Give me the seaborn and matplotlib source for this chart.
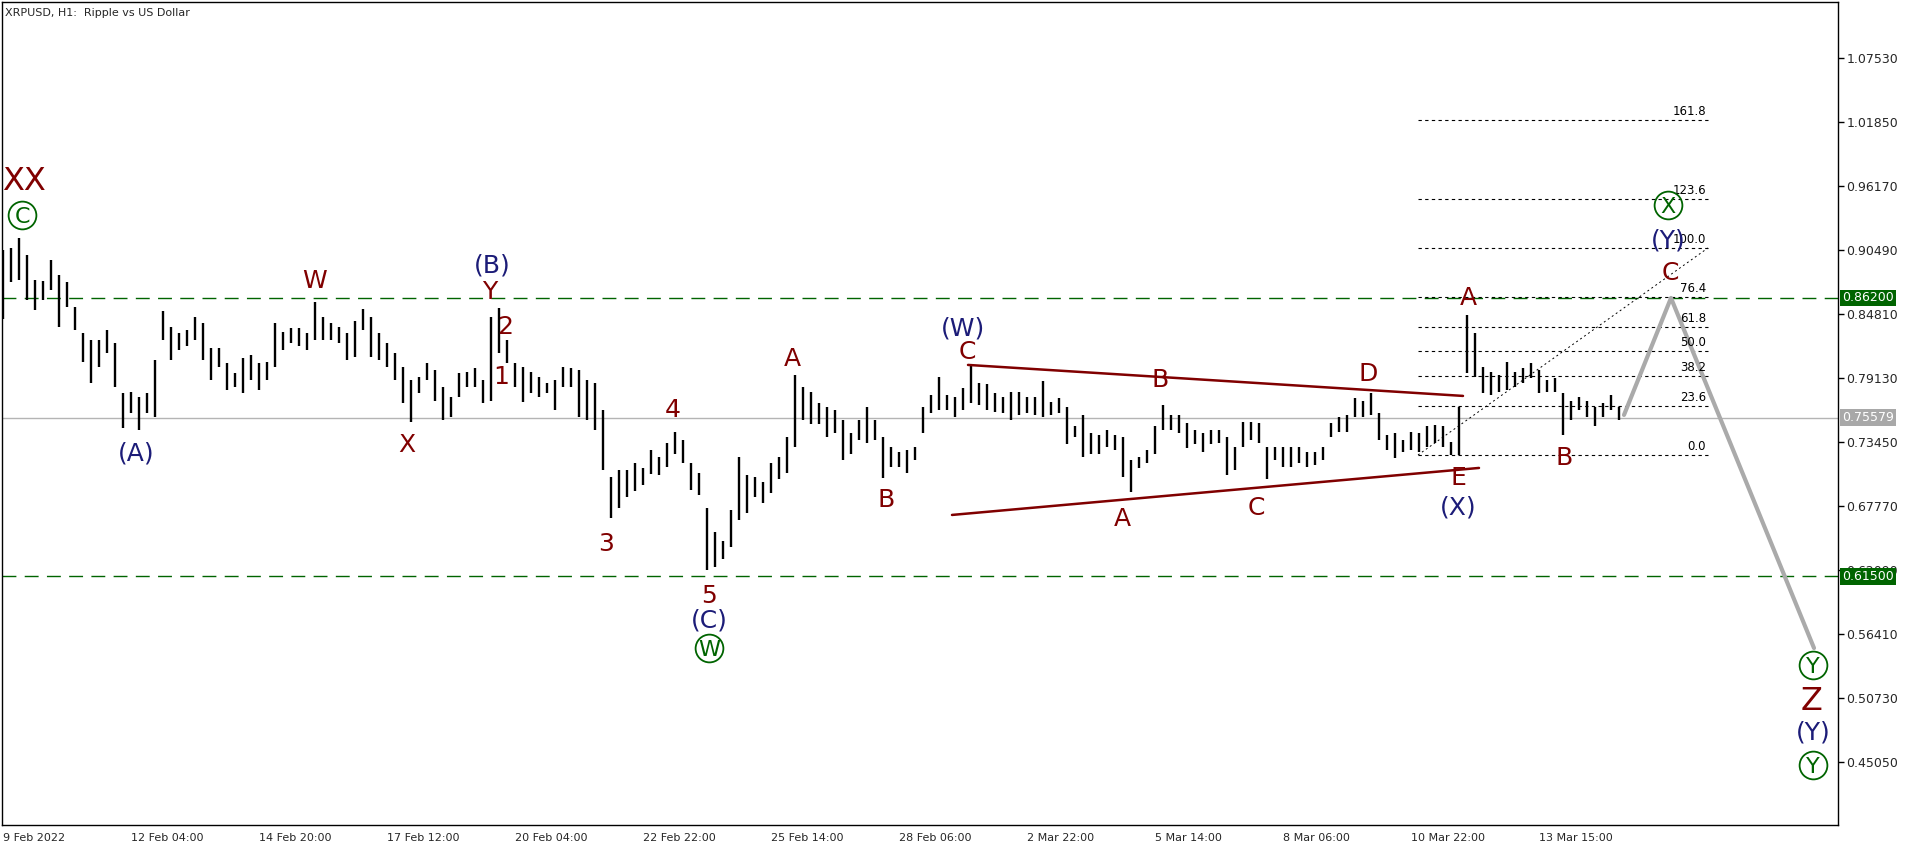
import numpy as np
import pandas as pd
import matplotlib
matplotlib.use("Agg")
import matplotlib.pyplot as plt
import matplotlib.transforms as mtransforms
import seaborn as sns

# 4-hour high / low (bar k sits at hour 4*k)
highs = [
    0.905, 0.906, 0.915, 0.900, 0.878, 0.877, 0.896, 0.882, 0.876, 0.854,
    0.831, 0.825, 0.825, 0.834, 0.822, 0.778, 0.779, 0.774, 0.778, 0.807,
    0.850, 0.836, 0.831, 0.834, 0.845, 0.840, 0.818, 0.818, 0.804, 0.795,
    0.809, 0.811, 0.804, 0.805, 0.840, 0.832, 0.835, 0.835, 0.831, 0.858,
    0.845, 0.840, 0.836, 0.831, 0.842, 0.852, 0.845, 0.831, 0.822, 0.813,
    0.801, 0.789, 0.792, 0.804, 0.798, 0.783, 0.774, 0.795, 0.796, 0.800,
    0.789, 0.845, 0.853, 0.825, 0.804, 0.801, 0.796, 0.792, 0.787, 0.789,
    0.801, 0.800, 0.798, 0.789, 0.787, 0.763, 0.703, 0.709, 0.709, 0.716,
    0.711, 0.727, 0.721, 0.733, 0.743, 0.736, 0.716, 0.707, 0.676, 0.654,
    0.646, 0.674, 0.721, 0.705, 0.703, 0.699, 0.716, 0.721, 0.739, 0.794,
    0.783, 0.779, 0.769, 0.765, 0.763, 0.754, 0.742, 0.754, 0.765, 0.754,
    0.739, 0.730, 0.725, 0.727, 0.730, 0.765, 0.776, 0.792, 0.776, 0.774,
    0.782, 0.803, 0.787, 0.786, 0.778, 0.774, 0.779, 0.779, 0.774, 0.774,
    0.788, 0.770, 0.773, 0.765, 0.748, 0.758, 0.742, 0.740, 0.745, 0.740,
    0.739, 0.718, 0.721, 0.727, 0.748, 0.767, 0.758, 0.758, 0.751, 0.745,
    0.742, 0.745, 0.745, 0.739, 0.730, 0.752, 0.752, 0.751, 0.730, 0.730,
    0.730, 0.730, 0.730, 0.725, 0.725, 0.730, 0.751, 0.756, 0.758, 0.773,
    0.771, 0.778, 0.760, 0.740, 0.742, 0.736, 0.743, 0.742, 0.748, 0.749,
    0.748, 0.734, 0.765, 0.847, 0.831, 0.801, 0.796, 0.794, 0.805, 0.796,
    0.800, 0.804, 0.798, 0.789, 0.791, 0.778, 0.771, 0.774, 0.771, 0.765,
    0.769, 0.776, 0.765,
]
lows = [
    0.843, 0.876, 0.878, 0.860, 0.851, 0.860, 0.869, 0.836, 0.854, 0.834,
    0.805, 0.787, 0.801, 0.813, 0.783, 0.747, 0.760, 0.745, 0.760, 0.756,
    0.825, 0.807, 0.816, 0.819, 0.825, 0.807, 0.789, 0.801, 0.780, 0.783,
    0.778, 0.789, 0.780, 0.789, 0.801, 0.816, 0.822, 0.819, 0.816, 0.825,
    0.825, 0.825, 0.822, 0.807, 0.810, 0.834, 0.810, 0.807, 0.801, 0.789,
    0.769, 0.752, 0.778, 0.789, 0.771, 0.754, 0.756, 0.774, 0.783, 0.783,
    0.769, 0.771, 0.813, 0.804, 0.783, 0.770, 0.778, 0.774, 0.778, 0.763,
    0.783, 0.783, 0.756, 0.754, 0.745, 0.709, 0.667, 0.676, 0.685, 0.691,
    0.696, 0.706, 0.705, 0.712, 0.724, 0.716, 0.692, 0.687, 0.621, 0.623,
    0.630, 0.641, 0.665, 0.671, 0.685, 0.680, 0.689, 0.701, 0.707, 0.730,
    0.754, 0.750, 0.750, 0.739, 0.742, 0.718, 0.724, 0.736, 0.733, 0.736,
    0.702, 0.712, 0.712, 0.707, 0.718, 0.742, 0.760, 0.763, 0.763, 0.756,
    0.763, 0.769, 0.767, 0.763, 0.761, 0.760, 0.754, 0.758, 0.760, 0.758,
    0.756, 0.758, 0.760, 0.732, 0.739, 0.721, 0.724, 0.724, 0.730, 0.727,
    0.703, 0.690, 0.711, 0.716, 0.724, 0.745, 0.745, 0.742, 0.729, 0.732,
    0.725, 0.732, 0.733, 0.705, 0.709, 0.730, 0.736, 0.733, 0.701, 0.718,
    0.712, 0.712, 0.716, 0.712, 0.714, 0.718, 0.739, 0.743, 0.743, 0.756,
    0.756, 0.758, 0.736, 0.727, 0.720, 0.725, 0.727, 0.725, 0.730, 0.733,
    0.730, 0.723, 0.723, 0.795, 0.792, 0.778, 0.776, 0.779, 0.780, 0.783,
    0.787, 0.791, 0.778, 0.779, 0.779, 0.740, 0.754, 0.763, 0.756, 0.748,
    0.756, 0.763, 0.754,
]
bar_step = 4  # hours per bar

date_labels = ["9 Feb 2022", "12 Feb 04:00", "14 Feb 20:00", "17 Feb 12:00",
               "20 Feb 04:00", "22 Feb 22:00", "25 Feb 14:00", "28 Feb 06:00",
               "2 Mar 22:00", "5 Mar 14:00", "8 Mar 06:00", "10 Mar 22:00",
               "13 Mar 15:00"]
price_ticks = [1.07530, 1.01850, 0.96170, 0.90490, 0.84810, 0.79130,
               0.73450, 0.67770, 0.62090, 0.56410, 0.50730, 0.45050]

resist_level = 0.862
support_level = 0.615
last_price = 0.75579

# fibo expansion
fib_ratios = [0.0, 23.6, 38.2, 50.0, 61.8, 76.4, 100.0, 123.6, 161.8]
fib_low, fib_high = 0.7227, 0.9064
fib_x = [707.5, 852.5]

# contracting triangle
tri_upper_x, tri_upper_y = [482.5, 730.0], [0.8026, 0.7751]
tri_lower_x, tri_lower_y = [474.5, 738.0], [0.6695, 0.7112]

# forecast path
forecast_x = [810.5, 834.0, 905.5]
forecast_y = [0.7582, 0.862, 0.5514]

# wave marks: text, hour, price, style
wave_labels = [
    ("XX", 10.5, 0.9685, "big"), ("C", 9.5, 0.9356, "circle"),
    ("(A)", 66.5, 0.7262, "navy"), ("W", 156, 0.8789, "red"),
    ("(B)", 244.5, 0.8931, "navy"), ("Y", 243.5, 0.8691, "red"),
    ("2", 251, 0.8389, "red"), ("1", 249, 0.7937, "red"),
    ("X", 202, 0.7342, "red"), ("3", 301.5, 0.6455, "red"),
    ("4", 335, 0.7644, "red"), ("5", 353, 0.6002, "red"),
    ("(C)", 353, 0.5781, "navy"), ("W", 353, 0.5514, "circle"),
    ("A", 394.5, 0.8105, "red"), ("B", 441.5, 0.6854, "red"),
    ("(W)", 480, 0.8372, "navy"), ("C", 482, 0.8159, "red"),
    ("B", 578.5, 0.7910, "red"), ("A", 559.5, 0.6677, "red"),
    ("C", 626.5, 0.6783, "red"), ("D", 682.5, 0.7972, "red"),
    ("E", 727.5, 0.7041, "red"), ("(X)", 727.5, 0.6783, "navy"),
    ("A", 732.5, 0.8638, "red"), ("B", 780.5, 0.7218, "red"),
    ("C", 833.5, 0.8868, "red"), ("(Y)", 832.5, 0.9152, "navy"),
    ("X", 832.5, 0.9445, "circle"), ("Y", 905, 0.5364, "circle"),
    ("Z", 904.5, 0.5071, "big"), ("(Y)", 905, 0.4787, "navy"),
    ("Y", 905, 0.4476, "circle"),
]

sns.set_style("white")
plt.rcParams['font.family'] = ['DejaVu Sans']

RED = "#800000"
NAVY = "#1c1c78"
GREEN = "#006400"

fig = plt.figure(figsize=(19.16, 8.52), dpi=100)
ax = fig.add_axes([2 / 1916, 27 / 852, 1836 / 1916, 823 / 852])

# price bars
bar_x = np.arange(len(highs)) * bar_step
ax.vlines(bar_x, lows, highs, color="black", lw=1.7, zorder=3)

# horizontal levels
ax.axhline(resist_level, color=GREEN, lw=1, ls=(0, (10, 6)), zorder=2)
ax.axhline(support_level, color=GREEN, lw=1, ls=(0, (10, 6)), zorder=2)
ax.axhline(last_price, color="#b4b4b4", lw=1, zorder=1)

# triangle
tri = pd.DataFrame({"x": tri_upper_x + tri_lower_x,
                    "y": tri_upper_y + tri_lower_y,
                    "side": ["upper"] * 2 + ["lower"] * 2})
sns.lineplot(data=tri, x="x", y="y", units="side", estimator=None,
             color=RED, lw=1.8, ax=ax, zorder=4)

# fibo
fib_levels = [fib_low + r / 100 * (fib_high - fib_low) for r in fib_ratios]
for r, lvl in zip(fib_ratios, fib_levels):
    ax.plot(fib_x, [lvl, lvl], color="black", lw=0.8, ls=(0, (3, 3)), zorder=2)
    ax.text(fib_x[1] - 1, lvl + 0.002, f"{r:.1f}", fontsize=8.5, ha="right",
            va="bottom", color="black", zorder=5)
ax.plot(fib_x, [fib_low, fib_high], color="black", lw=0.7, ls=(0, (2, 3)), zorder=2)

# forecast
fc = pd.DataFrame({"x": forecast_x, "y": forecast_y})
sns.lineplot(data=fc, x="x", y="y", sort=False, estimator=None,
             color="#aaaaaa", lw=3, ax=ax, zorder=4)

# wave labels
for txt, hx, py, style in wave_labels:
    if style == "circle":
        ax.plot(hx, py, marker="o", ms=20, mfc="none", mec=GREEN, mew=1.3,
                zorder=6, clip_on=False)
        ax.text(hx, py, txt, color=GREEN, fontsize=16, ha="center",
                va="center_baseline", zorder=6, clip_on=False)
    else:
        color = NAVY if style == "navy" else RED
        size = 23 if style == "big" else 18
        ax.text(hx, py, txt, color=color, fontsize=size, ha="center",
                va="center_baseline", zorder=6, clip_on=False)

# axes
ax.set_xlim(-0.5, 917.5)
ax.set_ylim(0.3944, 1.1246)
ax.set_xticks(np.arange(len(date_labels)) * 64)
ax.set_xticklabels(date_labels, fontsize=8)
for lab in ax.get_xticklabels():
    lab.set_horizontalalignment("left")
ax.yaxis.tick_right()
ax.set_yticks(price_ticks)
ax.set_yticklabels([f"{v:.5f}" for v in price_ticks], fontsize=9)
ax.tick_params(axis="both", direction="out", length=4, width=1, color="black")
ax.tick_params(axis="x", pad=2)
ax.tick_params(axis="y", pad=2)
ax.set_xlabel("")
ax.set_ylabel("")
for sp in ax.spines.values():
    sp.set_color("black")
    sp.set_linewidth(1)

# price badges on the right scale
trans = mtransforms.blended_transform_factory(ax.transAxes, ax.transData)
for val, bg in [(resist_level, GREEN), (support_level, GREEN), (last_price, "#a8a8a8")]:
    ax.text(1.0 + 4 / 1836, val, f"{val:.5f}", transform=trans, fontsize=9,
            color="white", ha="left", va="center", clip_on=False, zorder=10,
            bbox=dict(boxstyle="square,pad=0.15", fc=bg, ec="none"))

fig.text(5 / 1916, 1 - 13 / 852, "XRPUSD, H1:  Ripple vs US Dollar",
         fontsize=8, ha="left", va="center")

fig.savefig("out.png", dpi=100, facecolor="white")
